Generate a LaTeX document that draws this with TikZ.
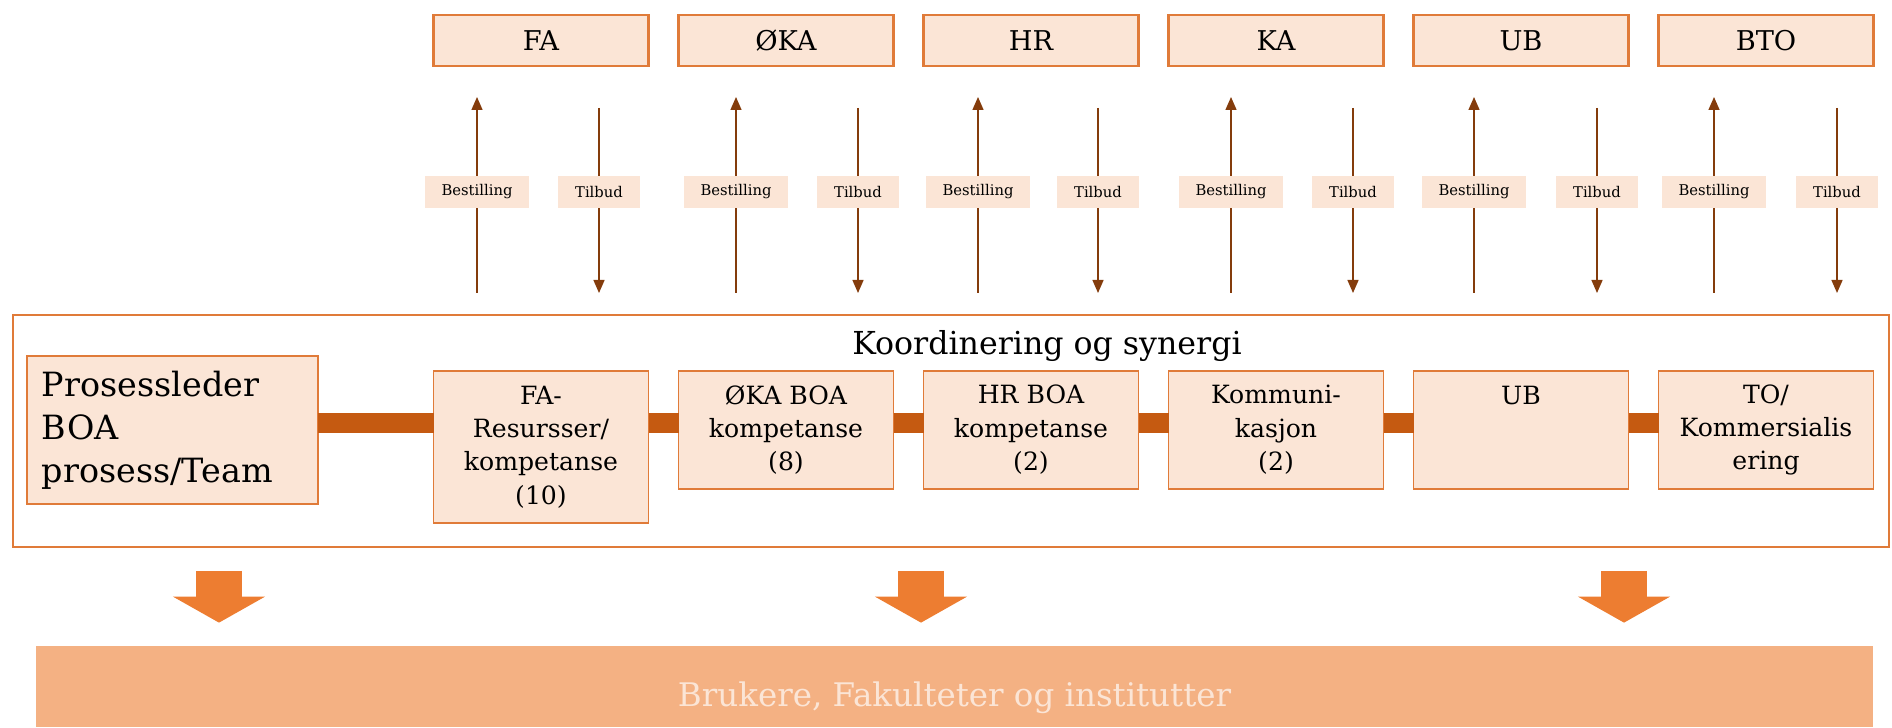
\documentclass[tikz,border=0pt]{standalone}
\usepackage{fontspec}
\setmainfont{DejaVu Serif}
\usetikzlibrary{positioning,arrows.meta}
\definecolor{boxfill}{HTML}{FBE5D6}
\definecolor{boxline}{HTML}{E07B39}
\definecolor{linkcol}{HTML}{C55A11}
\definecolor{thincol}{HTML}{843C0C}
\definecolor{bigcol}{HTML}{ED7D31}
\definecolor{barcol}{HTML}{F4B183}

\begin{document}
\begin{tikzpicture}[
  unit/.style={draw=boxline, line width=1.4pt, fill=boxfill, outer sep=0pt, minimum width=4.3cm, minimum height=1.02cm, font=\fontsize{15.5}{18}\selectfont},
  part/.style={draw=boxline, line width=0.9pt, fill=boxfill, outer sep=0pt, minimum width=4.3cm, minimum height=2.36cm, align=center, font=\fontsize{14.3}{19}\selectfont},
  tag/.style={fill=boxfill, inner xsep=0.34cm, minimum height=0.64cm, font=\fontsize{8.4}{10}\selectfont},
  flow/.style={draw=thincol, line width=0.8pt, -{Triangle[width=2.2mm,length=2.6mm]}},
  link/.style={draw=linkcol, line width=0.4cm},
  bigarrow/.style={draw=bigcol, line width=0.92cm, -{Triangle[width=1.82cm,length=0.52cm]}, shorten <=0.48cm, shorten >=0.46cm}
]
\useasboundingbox (0,0) rectangle (37.84,-14.56);

% units on top
\node[unit] (fa) at (10.82,-0.81) {FA};
\node[unit, right=0.6cm of fa] (oka) {ØKA};
\node[unit, right=0.6cm of oka] (hr) {HR};
\node[unit, right=0.6cm of hr] (ka) {KA};
\node[unit, right=0.6cm of ka] (ub) {UB};
\node[unit, right=0.6cm of ub] (bto) {BTO};

% coordination frame
\node[draw=boxline, line width=1.1pt, outer sep=0pt, minimum width=37.52cm, minimum height=4.64cm] (koord) at (19.02,-8.62) {};
\node[anchor=base, font=\fontsize{18}{21}\selectfont] (title) at (20.94,-7.10) {Koordinering og synergi};
\node[part, text width=5.22cm, inner xsep=0.3cm, align=left, minimum height=2.96cm, font=\fontsize{19}{24.5}\selectfont] (pl) at (3.45,-8.60) {Prosessleder\\BOA\\prosess/Team};
\node[part, below=6.1cm of fa, minimum height=3.04cm] (fares) {FA-\\Resursser/\\kompetanse\\(10)};
\node[part, below=6.1cm of oka] (okab) {ØKA BOA\\kompetanse\\(8)};
\node[part, below=6.1cm of hr] (hrb) {HR BOA\\kompetanse\\(2)};
\node[part, below=6.1cm of ka] (kom) {Kommuni-\\kasjon\\(2)};
\node[part, below=6.1cm of ub, inner ysep=0pt, text height=0.68cm, text depth=1.68cm] (ubb) {UB};
\node[part, below=6.1cm of bto] (to) {TO/\\Kommersialis\\ering};

% links
\coordinate (bus) at (0,-8.46);
\foreach \a/\b in {pl/fares, fares/okab, okab/hrb, hrb/kom, kom/ubb, ubb/to}
  \draw[link] (\a.east |- bus) -- (\b.west |- bus);

% orders and offers
\foreach \u/\p/\bx/\tx in {fa/fares/-1.28/1.16, oka/okab/-1.00/1.44, hr/hrb/-1.06/1.34, ka/kom/-0.90/1.54, ub/ubb/-0.94/1.52, bto/to/-1.04/1.42} {
  \draw[flow, shorten <=1.56cm, shorten >=0.62cm] ([xshift=\bx cm]\p.north) -- node[tag, pos=0.587] (b\u) {Bestilling} ([xshift=\bx cm]\u.south);
  \draw[flow, shorten <=0.84cm, shorten >=1.56cm] ([xshift=\tx cm]\u.south) -- node[tag, pos=0.413] (t\u) {Tilbud} ([xshift=\tx cm]\p.north);
}

% users
\node[fill=barcol, minimum width=36.74cm, inner ysep=0pt, text height=1.2cm, text depth=0.42cm, text=boxfill, font=\fontsize{18.5}{21}\selectfont] (brukere) at (19.09,-13.73) {Brukere, Fakulteter og institutter};
\foreach \dx in {4.12, 18.16, 32.22} {
  \coordinate (drop) at ([xshift=\dx cm]koord.south west);
  \draw[bigarrow] (drop) -- (drop |- brukere.north);
}
\end{tikzpicture}
\end{document}
